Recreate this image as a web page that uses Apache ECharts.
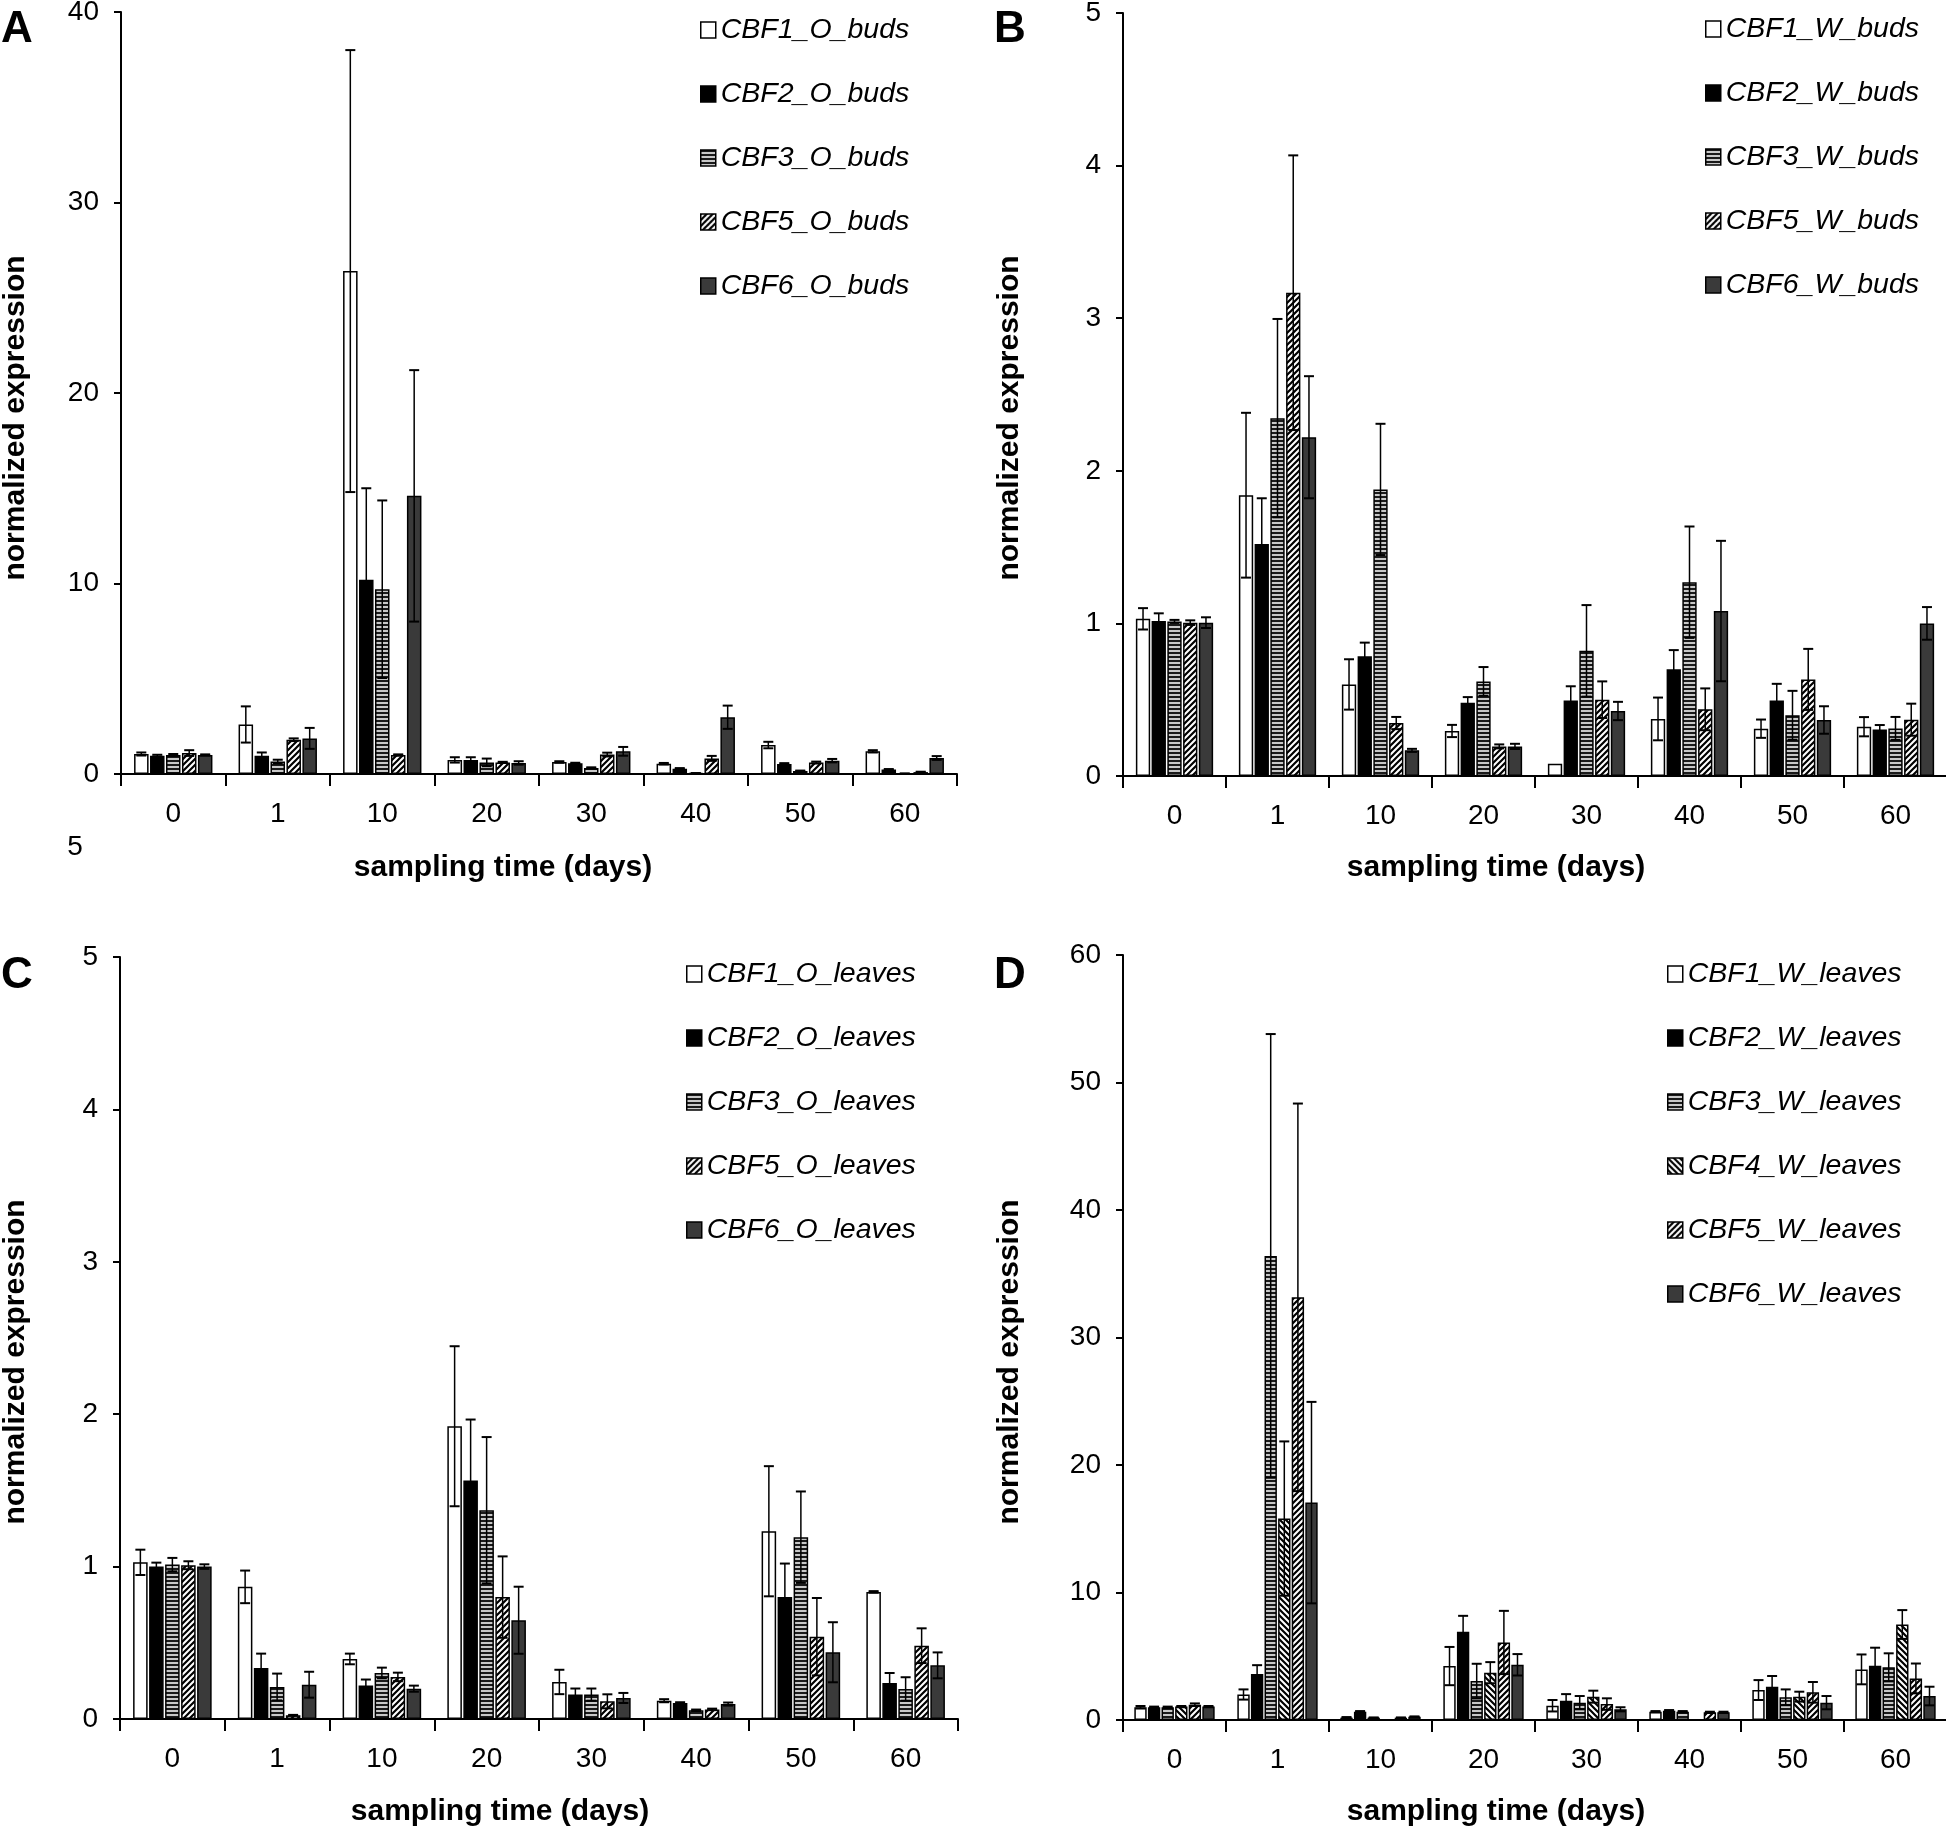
<!DOCTYPE html>
<html><head><meta charset="utf-8">
<script src="https://cdn.jsdelivr.net/npm/echarts@6/dist/echarts.min.js"></script>
<style>html,body{margin:0;padding:0;background:#fff}#c{width:1946px;height:1828px}</style>
</head><body><div id="c"></div>
<script>
// ---------- data ----------
const categories = ['0', '1', '10', '20', '30', '40', '50', '60'];

const namesA = ['CBF1_O_buds', 'CBF2_O_buds', 'CBF3_O_buds', 'CBF5_O_buds', 'CBF6_O_buds'];
const meanA = [
  [1.05, 2.6, 26.4, 0.74, 0.63, 0.54, 1.52, 1.19],
  [0.96, 0.96, 10.2, 0.74, 0.56, 0.28, 0.53, 0.23],
  [1.0, 0.65, 9.7, 0.61, 0.32, 0.04, 0.16, 0.02],
  [1.1, 1.8, 1.0, 0.61, 1.02, 0.82, 0.6, 0.1],
  [1.0, 1.87, 14.6, 0.58, 1.19, 2.98, 0.7, 0.84]
];
const errA = [
  [0.08, 0.95, 11.6, 0.14, 0.04, 0.04, 0.17, 0.06],
  [0.05, 0.17, 4.8, 0.14, 0.03, 0.03, 0.04, 0.03],
  [0.05, 0.1, 4.66, 0.2, 0.03, 0.01, 0.02, 0.01],
  [0.15, 0.07, 0.03, 0.03, 0.1, 0.13, 0.05, 0.02],
  [0.03, 0.55, 6.6, 0.09, 0.23, 0.61, 0.09, 0.1]
];

const namesB = ['CBF1_W_buds', 'CBF2_W_buds', 'CBF3_W_buds', 'CBF5_W_buds', 'CBF6_W_buds'];
const meanB = [
  [1.03, 1.84, 0.60, 0.295, 0.08, 0.374, 0.31, 0.323],
  [1.016, 1.52, 0.784, 0.48, 0.494, 0.70, 0.494, 0.304],
  [1.013, 2.345, 1.878, 0.62, 0.82, 1.27, 0.398, 0.312],
  [1.005, 3.167, 0.347, 0.194, 0.5, 0.437, 0.633, 0.369],
  [1.005, 2.22, 0.168, 0.194, 0.426, 1.081, 0.367, 1.0]
];
const errB = [
  [0.07, 0.54, 0.165, 0.04, 0, 0.14, 0.06, 0.063],
  [0.05, 0.3, 0.09, 0.037, 0.094, 0.125, 0.11, 0.03],
  [0.01, 0.65, 0.43, 0.094, 0.3, 0.365, 0.16, 0.075],
  [0.015, 0.9, 0.04, 0.013, 0.12, 0.137, 0.2, 0.105],
  [0.035, 0.4, 0.01, 0.017, 0.06, 0.46, 0.09, 0.107]
];

const namesC = ['CBF1_O_leaves', 'CBF2_O_leaves', 'CBF3_O_leaves', 'CBF5_O_leaves', 'CBF6_O_leaves'];
const meanC = [
  [1.028, 0.867, 0.394, 1.921, 0.243, 0.12, 1.232, 0.834],
  [1.0, 0.335, 0.219, 1.565, 0.16, 0.105, 0.80, 0.236],
  [1.013, 0.21, 0.302, 1.37, 0.16, 0.057, 1.193, 0.197],
  [1.009, 0.024, 0.276, 0.80, 0.116, 0.063, 0.54, 0.481],
  [1.0, 0.225, 0.199, 0.648, 0.138, 0.098, 0.438, 0.352]
];
const errC = [
  [0.083, 0.107, 0.035, 0.525, 0.08, 0.01, 0.427, 0.005],
  [0.026, 0.094, 0.04, 0.4, 0.04, 0.005, 0.22, 0.066],
  [0.044, 0.088, 0.035, 0.48, 0.04, 0.005, 0.3, 0.077],
  [0.026, 0.003, 0.028, 0.267, 0.046, 0.005, 0.254, 0.114],
  [0.015, 0.085, 0.02, 0.22, 0.033, 0.01, 0.197, 0.085]
];

const namesD = ['CBF1_W_leaves', 'CBF2_W_leaves', 'CBF3_W_leaves', 'CBF4_W_leaves', 'CBF5_W_leaves', 'CBF6_W_leaves'];
const meanD = [
  [1.0, 2.0, 0.18, 4.23, 1.12, 0.65, 2.35, 3.97],
  [1.0, 3.6, 0.65, 6.92, 1.51, 0.73, 2.61, 4.26],
  [1.0, 36.4, 0.18, 3.05, 1.36, 0.65, 1.78, 4.13],
  [1.05, 15.8, 0.02, 3.71, 1.83, 0.02, 1.83, 7.49],
  [1.2, 33.15, 0.18, 6.08, 1.25, 0.6, 2.17, 3.26],
  [1.05, 17.05, 0.26, 4.33, 0.84, 0.6, 1.36, 1.88]
];
const errD = [
  [0.1, 0.4, 0.05, 1.5, 0.45, 0.05, 0.78, 1.17],
  [0.05, 0.7, 0.05, 1.25, 0.52, 0.05, 0.84, 1.41],
  [0.05, 17.4, 0.02, 1.36, 0.52, 0.05, 0.62, 1.1],
  [0.05, 6.05, 0, 0.83, 0.47, 0, 0.39, 1.13],
  [0.1, 15.2, 0.02, 2.48, 0.45, 0.05, 0.81, 1.17],
  [0.05, 7.9, 0.02, 0.84, 0.16, 0.05, 0.52, 0.73]
];

const yMaxes = [40, 5, 5, 60];
const yIntervals = [10, 1, 1, 10];

// ---------- styles ----------
const FONT = '"Liberation Sans", Arial, Helvetica, sans-serif';

function mkPattern(kind) {
  const c = document.createElement('canvas');
  if (kind === 'h') {
    c.width = 4; c.height = 4;
    const g = c.getContext('2d');
    g.fillStyle = '#c8c8c8'; g.fillRect(0, 0, 4, 4);
    g.fillStyle = '#1a1a1a'; g.fillRect(0, 0, 4, 2);
    return { image: c, repeat: 'repeat' };
  }
  const s = 6;
  c.width = s; c.height = s;
  const g = c.getContext('2d');
  g.fillStyle = '#fff'; g.fillRect(0, 0, s, s);
  g.strokeStyle = '#000'; g.lineWidth = 2.2;
  g.beginPath();
  if (kind === 'f') {
    g.moveTo(-1, s + 1); g.lineTo(s + 1, -1);
    g.moveTo(-1, 1); g.lineTo(1, -1);
    g.moveTo(s - 1, s + 1); g.lineTo(s + 1, s - 1);
  } else {
    g.moveTo(-1, -1); g.lineTo(s + 1, s + 1);
    g.moveTo(-1, s - 1); g.lineTo(1, s + 1);
    g.moveTo(s - 1, -1); g.lineTo(s + 1, 1);
  }
  g.stroke();
  return { image: c, repeat: 'repeat' };
}
const WHITE = '#ffffff', BLACK = '#000000', DARK = '#3a3a3a';
const HSTRIPE = mkPattern('h'), FSLASH = mkPattern('f'), BSLASH = mkPattern('b');
const fills5 = [WHITE, BLACK, HSTRIPE, FSLASH, DARK];
const fills6 = [WHITE, BLACK, HSTRIPE, BSLASH, FSLASH, DARK];

// ---------- layout ----------
const grids = [
  { left: 121, top: 12, width: 836, height: 762 },
  { left: 1123, top: 13, width: 824, height: 763 },
  { left: 120, top: 957, width: 838, height: 762 },
  { left: 1123, top: 955, width: 824, height: 765 }
];
const catGaps = [0.25, 0.25, 0.25, 0.22];
const BAR_GAP = 0.1;

function makeErr(idx, N, catGap) {
  return function (params, api) {
    const cat = api.value(0), v = api.value(1), e = api.value(2);
    if (!(e > 0)) return null;
    const band = api.size([1, 0])[0];
    const w = band * (1 - catGap) / (N + (N - 1) * BAR_GAP);
    const total = N * w + (N - 1) * BAR_GAP * w;
    const cx = api.coord([cat, v])[0] - total / 2 + idx * w * (1 + BAR_GAP) + w / 2;
    const yt = api.coord([cat, v + e])[1];
    const lowV = Math.max(v - e, 0);
    const yb = api.coord([cat, lowV])[1];
    const cap = 5;
    const ch = [
      { type: 'line', shape: { x1: cx, y1: yt, x2: cx, y2: yb }, style: { stroke: '#000', lineWidth: 1.5 } },
      { type: 'line', shape: { x1: cx - cap, y1: yt, x2: cx + cap, y2: yt }, style: { stroke: '#000', lineWidth: 2 } }
    ];
    if (lowV > 0) ch.push({ type: 'line', shape: { x1: cx - cap, y1: yb, x2: cx + cap, y2: yb }, style: { stroke: '#000', lineWidth: 2 } });
    return { type: 'group', children: ch };
  };
}

const series = [];
function addPanel(gi, names, means, errs, fills) {
  const N = names.length;
  names.forEach((nm, i) => {
    series.push({
      type: 'bar', name: nm, xAxisIndex: gi, yAxisIndex: gi, data: means[i],
      barCategoryGap: (catGaps[gi] * 100) + '%', barGap: (BAR_GAP * 100) + '%',
      itemStyle: { color: fills[i], borderColor: '#000', borderWidth: 1.5 },
      animation: false, silent: true
    });
  });
  names.forEach((nm, i) => {
    series.push({
      type: 'custom', name: nm + ' err', xAxisIndex: gi, yAxisIndex: gi,
      data: means[i].map((v, k) => [k, v, errs[i][k]]),
      encode: { x: 0, y: 1 },
      renderItem: makeErr(i, N, catGaps[gi]), z: 5, silent: true, animation: false
    });
  });
}
addPanel(0, namesA, meanA, errA, fills5);
addPanel(1, namesB, meanB, errB, fills5);
addPanel(2, namesC, meanC, errC, fills5);
addPanel(3, namesD, meanD, errD, fills6);

const xAxes = grids.map((g, i) => ({
  type: 'category', gridIndex: i, data: categories,
  axisLine: { show: true, lineStyle: { color: '#000', width: 2 } },
  axisTick: { show: true, length: 12, lineStyle: { color: '#000', width: 2 } },
  axisLabel: { fontSize: 28, fontFamily: FONT, color: '#000', margin: 26 },
  splitLine: { show: false }
}));
const yAxes = grids.map((g, i) => ({
  type: 'value', gridIndex: i, min: 0, max: yMaxes[i], interval: yIntervals[i],
  axisLine: { show: true, lineStyle: { color: '#000', width: 2 } },
  axisTick: { show: true, length: 7, lineStyle: { color: '#000', width: 2 } },
  axisLabel: { fontSize: 28, fontFamily: FONT, color: '#000', margin: 22 },
  splitLine: { show: false }
}));

function legendFor(names, left, top) {
  return {
    data: names, orient: 'vertical', left: left, top: top, padding: 0,
    itemWidth: 15, itemHeight: 16, itemGap: 32, icon: 'rect', selectedMode: false,
    itemStyle: { borderColor: '#000', borderWidth: 1.5 },
    textStyle: { fontSize: 28.5, fontStyle: 'italic', fontFamily: FONT, color: '#000', lineHeight: 32 }
  };
}

function txt(str, x, y, size, weight, rot) {
  return {
    type: 'text', x: x, y: y, rotation: rot || 0, silent: true,
    style: { text: str, fontSize: size, fontWeight: weight, fontFamily: FONT, fill: '#000', align: 'center', verticalAlign: 'middle' }
  };
}
const graphics = [
  txt('A', 17, 30, 44, 'bold'),
  txt('B', 1010, 30, 44, 'bold'),
  txt('C', 17, 976, 44, 'bold'),
  txt('D', 1010, 976, 44, 'bold'),
  txt('5', 75, 847, 28, 'normal'),
  txt('normalized expression', 16, 418, 30, 'bold', Math.PI / 2),
  txt('normalized expression', 1010, 418, 30, 'bold', Math.PI / 2),
  txt('normalized expression', 16, 1362, 30, 'bold', Math.PI / 2),
  txt('normalized expression', 1010, 1362, 30, 'bold', Math.PI / 2),
  txt('sampling time (days)', 503, 868, 30, 'bold'),
  txt('sampling time (days)', 1496, 868, 30, 'bold'),
  txt('sampling time (days)', 500, 1812, 30, 'bold'),
  txt('sampling time (days)', 1496, 1812, 30, 'bold')
];

const chart = echarts.init(document.getElementById('c'), null, { renderer: 'canvas' });
chart.setOption({
  backgroundColor: '#fff',
  animation: false,
  grid: grids.map(g => Object.assign({ containLabel: false, outerBoundsMode: 'none' }, g)),
  xAxis: xAxes,
  yAxis: yAxes,
  legend: [
    legendFor(namesA, 700, 14),
    legendFor(namesB, 1705, 13),
    legendFor(namesC, 686, 958),
    legendFor(namesD, 1667, 958)
  ],
  graphic: graphics,
  series: series
});
</script>
</body></html>
